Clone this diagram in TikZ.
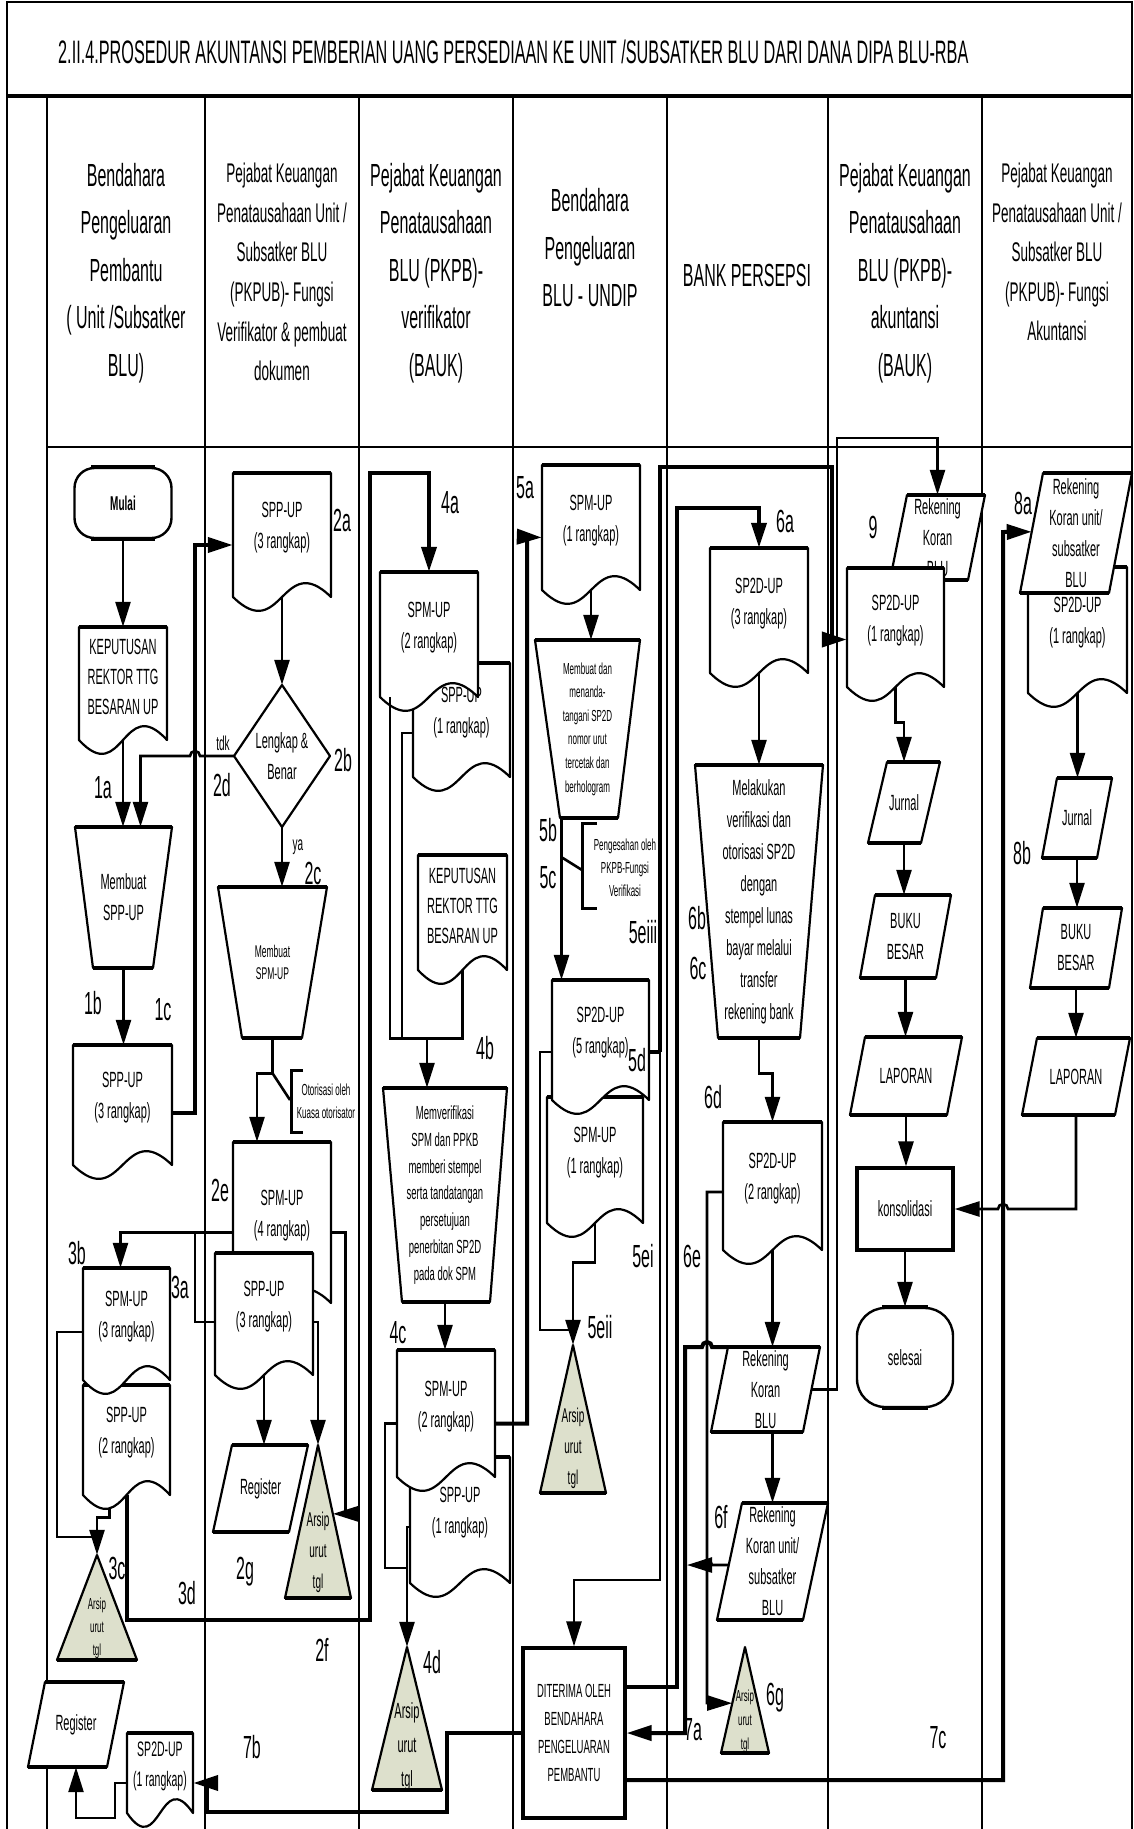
\documentclass[tikz,border=0pt]{standalone}
\usepackage{fontspec}
\setmainfont{Liberation Sans}[FakeStretch=0.5]
\usepackage{tikz}
\usetikzlibrary{arrows.meta, calc}
\definecolor{arsipfill}{RGB}{221,224,204}
\newcommand{\fsz}[2]{\fontsize{#1}{#2}\selectfont}

\tikzset{
  shp/.style={draw, fill=white, line width=2.2pt, line join=round},
  topln/.style={line width=4.5pt},
  txt/.style={inner sep=0pt, align=center, font=\fsz{22}{31}},
  lbl/.style={inner sep=0pt, font=\fsz{32}{36}},
  hdr/.style={inner sep=0pt, align=center, font=\fsz{32}{47.5}},
  hdrs/.style={inner sep=0pt, align=center, font=\fsz{27}{39.6}},
  lane/.style={line width=1.6pt},
  conn/.style={line width=2.6pt, -{Triangle[length=25pt,width=15pt]}},
  ln/.style={line width=2.6pt},
  heavy/.style={line width=4pt},
  termin/.style={draw, fill=white, line width=2.4pt, rounded corners=20pt, inner sep=0pt, align=center, font=\fsz{22}{31}},
  boxs/.style={draw, fill=white, line width=3.2pt, inner sep=0pt, align=center},
}

% document: name, left, top, width, height (to wave ends), text
\newcommand{\docshape}[7][]{%
  \pgfmathsetmacro\dcR{#3+#5}\pgfmathsetmacro\dcB{#4+#6}\pgfmathsetmacro\dcM{#3+#5/2}%
  \pgfmathsetmacro\dcU{#4+#6-48}\pgfmathsetmacro\dcD{#4+#6+48}\pgfmathsetmacro\dcC{#4+#6/2}%
  \pgfmathsetmacro\dcT{#4+#6/2-7}%
  \path[shp] (#3,\dcB) -- (#3,#4) -- (\dcR,#4) -- (\dcR,\dcB) .. controls (\dcM,\dcU) and (\dcM,\dcD) .. (#3,\dcB) -- cycle;
  \draw[topln] (#3,#4) -- (\dcR,#4);
  \node[minimum width=#5pt, minimum height=#6pt, inner sep=0pt] (#2) at (\dcM,\dcC) {};
  \node[txt, #1] (#2-t) at (\dcM,\dcT) {#7};}

% parallelogram: name, x top-left, x top-right, top, slant, bottom, text
\newcommand{\plgram}[8][]{%
  \pgfmathsetmacro\pgA{#3-#6}\pgfmathsetmacro\pgB{#4-#6}%
  \pgfmathsetmacro\pgX{(#3+#4-#6)/2}\pgfmathsetmacro\pgY{(#5+#7)/2}%
  \pgfmathsetmacro\pgW{#4-#3}\pgfmathsetmacro\pgH{#7-#5}%
  \coordinate (#2-tl) at (#3,#5); \coordinate (#2-tr) at (#4,#5);
  \coordinate (#2-bl) at (\pgA,#7); \coordinate (#2-br) at (\pgB,#7);
  \path[shp] (#2-tl) -- (#2-tr) -- (#2-br) -- (#2-bl) -- cycle;
  \draw[topln] (#2-tl) -- (#2-tr) (#2-bl) -- (#2-br);
  \node[txt, minimum width=\pgW pt, minimum height=\pgH pt, #1] (#2) at (\pgX,\pgY) {#8};}

% manual operation: name, top, x top-left, x top-right, bottom, x bottom-left, x bottom-right, text
\newcommand{\manbox}[9][]{%
  \pgfmathsetmacro\mpX{(#4+#5)/2}\pgfmathsetmacro\mpY{(#3+#6)/2}%
  \pgfmathsetmacro\mpW{#5-#4}\pgfmathsetmacro\mpH{#6-#3}%
  \path[shp] (#4,#3) -- (#5,#3) -- (#8,#6) -- (#7,#6) -- cycle;
  \draw[topln] (#4,#3) -- (#5,#3) (#7,#6) -- (#8,#6);
  \node[txt, minimum width=\mpW pt, minimum height=\mpH pt, #1] (#2) at (\mpX,\mpY) {#9};}

% archive: name, apex x, apex y, base y, half width
\newcommand{\arsipshape}[6][]{%
  \pgfmathsetmacro\arL{#3-#6}\pgfmathsetmacro\arR{#3+#6}\pgfmathsetmacro\arM{(#4+#5)/2}%
  \pgfmathsetmacro\arT{#5-0.3*(#5-#4)}\pgfmathsetmacro\arW{2*#6}\pgfmathsetmacro\arH{#5-#4}%
  \path[shp, fill=arsipfill] (#3,#4) -- (\arR,#5) -- (\arL,#5) -- cycle;
  \draw[topln] (\arL,#5) -- (\arR,#5);
  \node[minimum width=\arW pt, minimum height=\arH pt, inner sep=0pt] (#2) at (#3,\arM) {};
  \node[txt, #1] (#2-t) at (#3,\arT) {Arsip\\urut\\tgl};}

\begin{document}
\begin{tikzpicture}[x=1pt, y=-1pt]
\useasboundingbox (0,0) rectangle (1133,1829);

\draw[lane] (7,1829) -- (7,2) -- (1132,2) -- (1132,1829);
\draw[line width=3.5pt] (7,96) -- (1132,96);
\draw[lane] (47,96) -- (47,1829) (205,96) -- (205,1829) (359,96) -- (359,1829) (513,96) -- (513,1829)
  (667,96) -- (667,1829) (828,96) -- (828,1829) (982,96) -- (982,1829);
\draw[lane] (47,447) -- (1132,447);

\node[anchor=west, inner sep=0pt, font=\fsz{32.5}{38}] (ttl) at (58,52) {2.II.4.PROSEDUR AKUNTANSI PEMBERIAN UANG PERSEDIAAN KE UNIT /SUBSATKER BLU DARI DANA DIPA BLU-RBA};

\node[hdr] (h1) at (126,273) {Bendahara\\Pengeluaran\\Pembantu\\( Unit /Subsatker\\BLU)};
\node[hdrs] (h2) at (282,272) {Pejabat Keuangan\\Penatausahaan Unit /\\Subsatker BLU\\(PKPUB)- Fungsi\\Verifikator \& pembuat\\dokumen};
\node[hdr] (h3) at (436,273) {Pejabat Keuangan\\Penatausahaan\\BLU (PKPB)-\\verifikator\\(BAUK)};
\node[hdr] (h4) at (590,248) {Bendahara\\Pengeluaran\\BLU - UNDIP};
\node[hdr] (h5) at (747,275) {BANK PERSEPSI};
\node[hdr] (h6) at (905,273) {Pejabat Keuangan\\Penatausahaan\\BLU (PKPB)-\\akuntansi\\(BAUK)};
\node[hdrs] (h7) at (1057,252) {Pejabat Keuangan\\Penatausahaan Unit /\\Subsatker BLU\\(PKPUB)- Fungsi\\Akuntansi};

% unit / subsatker
\node[termin, minimum width=97pt, minimum height=70pt, font=\bfseries\fsz{20}{24}] (mulai) at (123,503) {Mulai};
\draw[topln] ([xshift=18pt]mulai.north west) -- ([xshift=-18pt]mulai.north east) ([xshift=18pt]mulai.south west) -- ([xshift=-18pt]mulai.south east);
\docshape[font=\fsz{22}{30}]{kep1}{79}{627}{88}{113}{KEPUTUSAN\\REKTOR TTG\\BESARAN UP}
\manbox{mbspp}{827}{75}{172}{968}{93}{153}{Membuat\\SPP-UP}
\docshape{spp1}{73}{1045}{99}{120}{SPP-UP\\(3 rangkap)}
\docshape{spp2b}{83}{1385}{87}{110}{SPP-UP\\(2 rangkap)}
\docshape{spm3}{83}{1268}{87}{112}{SPM-UP\\(3 rangkap)}
\arsipshape[font=\fsz{16}{23}]{ars1}{97}{1555}{1660}{40}
\plgram{reg1}{45}{124}{1682}{17}{1767}{Register}
\docshape[font=\fsz{21}{30}]{sp2d1}{127}{1733}{66}{80}{SP2D-UP\\(1 rangkap)}

% verifikator unit
\docshape{spp2a}{233}{473}{98}{124}{SPP-UP\\(3 rangkap)}
\path[shp] (234,756) -- (282,685) -- (330,756) -- (282,827) -- cycle;
\node[txt, minimum width=96pt, minimum height=142pt] (lb) at (282,756) {Lengkap \&\\Benar};
\manbox[font=\fsz{17}{22}]{mbspm}{887}{218}{327}{1038}{242}{302}{Membuat\\SPM-UP}
\docshape{spm4}{233}{1142}{98}{161}{SPM-UP\\(4 rangkap)}
\docshape{spp3b}{215}{1253}{98}{122}{SPP-UP\\(3 rangkap)}
\plgram{reg2}{232}{308}{1445}{19}{1532}{Register}
\arsipshape[font=\fsz{20}{31}]{ars2}{318}{1445}{1598}{33}

% verifikator BLU
\docshape{spp1c}{413}{663}{97}{114}{SPP-UP\\(1 rangkap)}
\docshape{spm2a}{380}{572}{98}{125}{SPM-UP\\(2 rangkap)}
\docshape[font=\fsz{22}{30}]{kep3}{418}{855}{89}{115}{KEPUTUSAN\\REKTOR TTG\\BESARAN UP}
\manbox[font=\fsz{19}{26.7}]{mv}{1088}{383}{507}{1302}{402}{490}{Memverifikasi\\SPM dan PPKB\\memberi stempel\\serta tandatangan\\persetujuan\\penerbitan SP2D\\pada dok SPM}
\docshape{spp1d}{410}{1457}{100}{126}{SPP-UP\\(1 rangkap)}
\docshape{spm2b}{397}{1350}{98}{127}{SPM-UP\\(2 rangkap)}
\arsipshape[font=\fsz{22}{34}]{ars4}{407}{1647}{1790}{35}

% bendahara BLU
\docshape{spm1a}{542}{465}{98}{125}{SPM-UP\\(1 rangkap)}
\manbox[font=\fsz{16}{23.6}]{mt}{640}{535}{640}{818}{560}{618}{Membuat dan\\menanda-\\tangani SP2D\\nomor urut\\tercetak dan\\berhologram}
\docshape{spm1b}{547}{1097}{96}{126}{SPM-UP\\(1 rangkap)}
\docshape{sp2d5}{552}{980}{97}{120}{SP2D-UP\\(5 rangkap)}
\arsipshape[font=\fsz{20}{31}]{ars5}{573}{1345}{1493}{33}
\node[boxs, font=\fsz{19}{28}, minimum width=102pt, minimum height=170pt] (dtr) at (574,1733) {DITERIMA OLEH\\BENDAHARA\\PENGELUARAN\\PEMBANTU};

% bank
\docshape{sp2d3}{710}{548}{98}{125}{SP2D-UP\\(3 rangkap)}
\manbox[font=\fsz{22}{32}]{mlk}{765}{695}{823}{1038}{718}{800}{Melakukan\\verifikasi dan\\otorisasi SP2D\\dengan\\stempel lunas\\bayar melalui\\transfer\\rekening bank}
\docshape{sp2d2}{723}{1122}{99}{128}{SP2D-UP\\(2 rangkap)}
\plgram{rkb5}{728}{820}{1347}{17}{1432}{Rekening\\Koran\\BLU}
\plgram{rks5}{742}{828}{1503}{25}{1620}{Rekening\\Koran unit/\\subsatker\\BLU}
\arsipshape[font=\fsz{16}{24}]{ars6}{745}{1647}{1753}{24}

% akuntansi BLU
\plgram{rkb6}{907}{985}{495}{17}{580}{Rekening\\Koran\\BLU}
\docshape{sp2d1b}{847}{568}{97}{119}{SP2D-UP\\(1 rangkap)}
\plgram{jur6}{887}{940}{762}{19}{843}{Jurnal}
\plgram{bb6}{875}{951}{895}{15}{978}{BUKU\\BESAR}
\plgram{lap6}{865}{962}{1037}{15}{1115}{LAPORAN}
\node[boxs, font=\fsz{22}{31}, minimum width=96pt, minimum height=82pt] (kons) at (905,1209) {konsolidasi};
\node[termin, minimum width=96pt, minimum height=99pt, rounded corners=28pt] (sel) at (905,1357.5) {selesai};
\draw[topln] ([xshift=26pt]sel.north west) -- ([xshift=-26pt]sel.north east) ([xshift=26pt]sel.south west) -- ([xshift=-26pt]sel.south east);

% akuntansi unit
\docshape{sp2d7}{1028}{567}{99}{126}{SP2D-UP\\(1 rangkap)}
\plgram{rks7}{1043}{1132}{473}{23}{593}{Rekening\\Koran unit/\\subsatker\\BLU}
\plgram{jur7}{1057}{1112}{778}{15}{858}{Jurnal}
\plgram{bb7}{1043}{1122}{908}{13}{988}{BUKU\\BESAR}
\plgram{lap7}{1037}{1130}{1038}{15}{1115}{LAPORAN}

% connectors
\draw[conn] (mulai.south) -- (kep1.north);
\draw[conn] (kep1.south) -- (kep1.south |- mbspp.north);
\draw[conn] (lb.west) -- (200,756) arc[start angle=0, end angle=180, radius=5pt] -| ([xshift=17pt]mbspp.north);
\draw[conn] (mbspp.south) -- (mbspp.south |- spp1.north);
\draw[conn, heavy] ([yshift=-8pt]spp1.east) -- ++(23,0) |- ([yshift=-10pt]spp2a.west);
\draw[conn] (spp2a.south) -- (lb.north);
\draw[conn] (lb.south) -- (lb.south |- mbspm.north);
\draw[conn] (mbspm.south) -- ++(0,35) coordinate (oto) -| ([xshift=-25pt]spm4.north);
\draw[ln] (oto) -- (290,1100);
\draw[ln, line width=3pt] (303,1070) -- (291,1070) -- (291,1132) -- (303,1132);
\node[txt, font=\fsz{16}{23}] (otot) at (326,1101) {Otorisasi oleh\\Kuasa otorisator};
\draw[conn] ([yshift=-10pt]spm4.west) -| ([xshift=-6pt]spm3.north);
\draw[ln] ([yshift=-8pt]spp3b.west) -- ++(-20,0) |- ([yshift=-10pt]spm4.west);
\draw[conn] ([yshift=-10pt]spm4.east) -- ++(14,0) |- ($(ars2.north)!0.45!(ars2.south east)$);
\draw[conn] ([yshift=-8pt]spp3b.east) -| (ars2.north);
\draw[conn] (spp3b.south) -- (spp3b.south |- reg2.north);
\draw[ln] ([yshift=-8pt]spm3.west) -- ++(-26,0) |- ([yshift=18pt]ars1.north);
\draw[conn] ([xshift=-17pt,yshift=-14pt]spp2b.south) -- ++(0,8) -| (ars1.north);
\draw[conn, heavy] (spp2b.south) -- ++(0,125) -| (370,473) -| (spm2a.north);
\draw[conn, heavy] (dtr.west) -| (447,1812) -| (207,1783) -- ([yshift=-10pt]sp2d1.east);
\draw[conn] ([yshift=-10pt]sp2d1.west) -| (115,1818) -| (reg1.south);

\draw[ln] ([xshift=10pt]spm2a.south west) -- ++(0,341) -| (kep3.south);
\draw[ln] ([yshift=-13pt]spp1c.west) -| (402,1038);
\coordinate (j4b) at (427,1038);
\draw[conn] (j4b) -- (j4b |- mv.north);
\draw[conn] (mv.south) -- (mv.south |- spm2b.north);
\draw[conn, heavy] ([yshift=-10pt]spm2b.east) -| (527,537) -- ([yshift=-10pt]spm1a.west);
\draw[ln] ([yshift=-10pt]spm2b.west) -| (385,1568) -- (407,1568);
\draw[conn] ([yshift=-7pt]spp1d.west) -| (ars4.north);

\draw[conn] (spm1a.south) -- (spm1a.south |- mt.north);
\draw[conn] ([xshift=-26pt]mt.south) -- ([xshift=-26pt]mt.south |- sp2d5.north);
\draw[ln] ([xshift=-26pt,yshift=-39pt]mt.south) -- (582,870);
\draw[ln, line width=3pt] (597,823) -- (582,823) -- (582,908) -- (597,908);
\node[txt, font=\fsz{16}{23}] (pgs) at (625,868) {Pengesahan oleh\\PKPB-Fungsi\\Verifikasi};
\draw[ln] ([yshift=-12pt]sp2d5.west) -| (540,1330) -- (573,1330);
\draw[conn] (spm1b.south) -- ++(0,39) -| (ars5.north);
\coordinate (j5d) at (660,1052);
\draw[ln, heavy] ([yshift=-12pt]sp2d5.east) -- (j5d);
\draw[conn, heavy] (j5d) |- (832,467) |- ([yshift=-12pt]sp2d1b.west);
\draw[conn] (j5d) -- ++(0,528) -| (dtr.north);
\draw[conn, heavy] ([yshift=46pt]dtr.east) -| (677,508) -| (sp2d3.north);

\draw[conn] (sp2d3.south) -- (sp2d3.south |- mlk.north);
\draw[conn] (mlk.south) -- ++(0,35) -| (sp2d2.north);
\draw[conn] ([yshift=-6pt]sp2d2.west) -| (707,1703) -- ($(ars6.north)!0.53!(ars6.south west)$);
\draw[conn] (sp2d2.south) -- (sp2d2.south |- rkb5.north);
\draw[conn] (sp2d2.south |- rkb5.south) -- (sp2d2.south |- rks5.north);
\draw[conn, heavy] (rkb5-tl) -- (712,1347) arc[start angle=0, end angle=180, radius=5pt] -- (685,1347) |- (dtr.east);
\coordinate (j6f) at (687,1565);
\draw[conn] ($(rks5-tl)!0.53!(rks5-bl)$) -- (712,1565) arc[start angle=0, end angle=180, radius=5pt] -- (j6f);
\draw[conn] ($(rkb5-tr)!0.5!(rkb5-br)$) -| (837,438) -| (rkb6.north);

\draw[conn] (sp2d1b.south) -- ++(0,35) -| (jur6.north);
\draw[conn] (jur6.south) -- (jur6.south |- bb6.north);
\draw[conn] (bb6.south) -- (bb6.south |- lap6.north);
\draw[conn] (lap6.south) -- (lap6.south |- kons.north);
\draw[conn] (kons.south) -- (sel.north);
\draw[conn] (sp2d7.south) -- (sp2d7.south |- jur7.north);
\draw[conn] (jur7.south) -- (jur7.south |- bb7.north);
\draw[conn] (bb7.south) -- (bb7.south |- lap7.north);
\draw[conn] (lap7.south) -- (lap7.south |- kons.east) -- (1008,1209) arc[start angle=0, end angle=180, radius=5pt] -- (kons.east);
\draw[conn, heavy] ([yshift=-47pt]dtr.east) -| (1003,532) -- ($(rks7-tl)!0.49!(rks7-bl)$);

% labels
\node[lbl] (l1a) at (103,788) {1a};
\node[lbl] (l1b) at (93,1003) {1b};
\node[lbl] (l1c) at (163,1010) {1c};
\node[lbl] (l2a) at (342,520) {2a};
\node[lbl] (l2b) at (343,760) {2b};
\node[txt, font=\fsz{20}{24}] (ltdk) at (223,743) {tdk};
\node[lbl] (l2d) at (222,785) {2d};
\node[txt, font=\fsz{20}{24}] (lya) at (298,847) {ya};
\node[lbl] (l2c) at (313,873) {2c};
\node[lbl] (l2e) at (220,1190) {2e};
\node[lbl] (l3b) at (77,1253) {3b};
\node[lbl] (l3a) at (180,1287) {3a};
\node[lbl] (l3c) at (117,1568) {3c};
\node[lbl] (l3d) at (187,1593) {3d};
\node[lbl] (l2g) at (245,1572) {2g};
\node[lbl] (l2f) at (322,1650) {2f};
\node[lbl] (l7b) at (252,1747) {7b};
\node[lbl] (l4a) at (450,503) {4a};
\node[lbl] (l5a) at (525,488) {5a};
\node[lbl] (l4b) at (485,1048) {4b};
\node[lbl] (l4c) at (398,1333) {4c};
\node[lbl] (l4d) at (432,1662) {4d};
\node[lbl] (l5b) at (548,830) {5b};
\node[lbl] (l5c) at (548,878) {5c};
\node[lbl] (l5eiii) at (643,932) {5eiii};
\node[lbl] (l5d) at (637,1060) {5d};
\node[lbl] (l5ei) at (643,1256) {5ei};
\node[lbl] (l5eii) at (600,1327) {5eii};
\node[lbl] (l6a) at (785,521) {6a};
\node[lbl] (l6b) at (697,918) {6b};
\node[lbl] (l6c) at (698,968) {6c};
\node[lbl] (l6d) at (713,1097) {6d};
\node[lbl] (l6e) at (692,1256) {6e};
\node[lbl] (l6f) at (721,1517) {6f};
\node[lbl] (l6g) at (775,1698) {6g};
\node[lbl] (l7a) at (693,1730) {7a};
\node[lbl] (l9) at (873,527) {9};
\node[lbl] (l7c) at (938,1738) {7c};
\node[lbl] (l8a) at (1023,503) {8a};
\node[lbl] (l8b) at (1022,853) {8b};
\end{tikzpicture}
\end{document}
